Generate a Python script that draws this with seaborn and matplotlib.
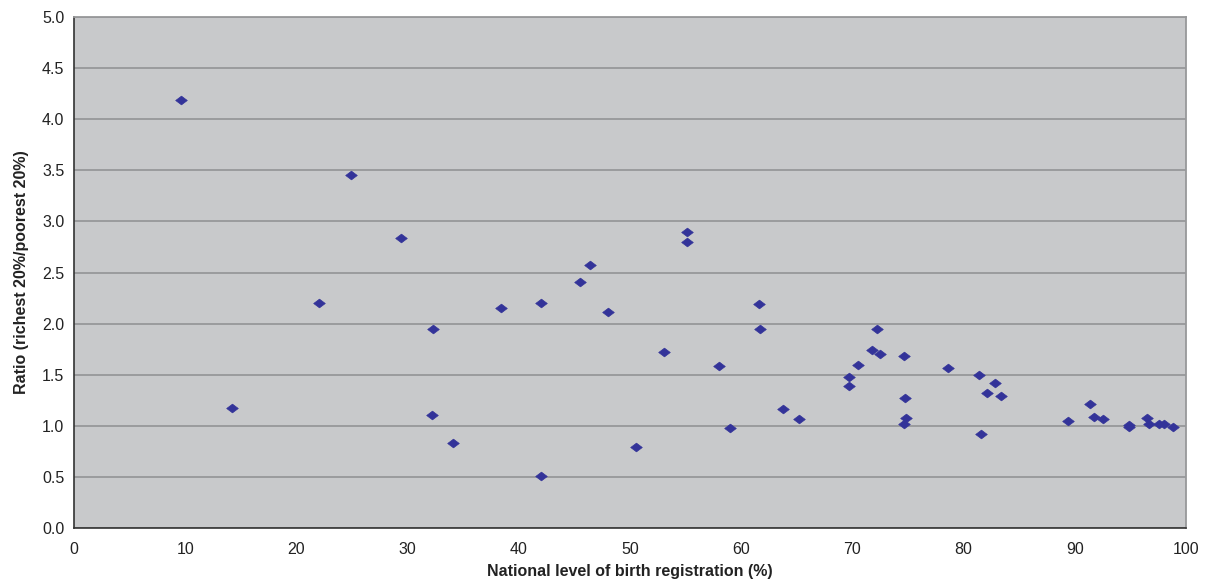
import matplotlib
matplotlib.use("Agg")
import matplotlib.pyplot as plt
import seaborn as sns
import pandas as pd

# ==================================================
# Datos
# ==================================================
registration = [9.6, 14.2, 22.0, 24.9, 29.4, 32.3, 32.2, 34.1,
                38.4, 42.0, 42.0, 45.5, 46.4, 48.0, 50.5, 53.1,
                55.1, 55.1, 58.0, 59.0, 61.6, 61.7, 63.8, 65.2,
                69.7, 69.7, 70.5, 71.8, 72.2, 72.5, 74.6, 74.7,
                74.6, 74.8, 78.6, 81.4, 81.6, 82.1, 82.8, 83.4,
                89.4, 91.4, 91.7, 92.5, 94.9, 94.9, 96.5, 96.7,
                97.6, 98.0, 98.8]
ratio = [4.19, 1.17, 2.20, 3.45, 2.84, 1.95, 1.11, 0.83,
         2.15, 2.20, 0.51, 2.41, 2.57, 2.11, 0.79, 1.72,
         2.90, 2.80, 1.59, 0.98, 2.19, 1.95, 1.16, 1.07,
         1.48, 1.39, 1.60, 1.74, 1.95, 1.70, 1.68, 1.27,
         1.02, 1.08, 1.57, 1.50, 0.92, 1.32, 1.42, 1.29,
         1.05, 1.21, 1.09, 1.07, 1.01, 0.99, 1.08, 1.02,
         1.02, 1.02, 0.99]

x_ticks = list(range(0, 101, 10))
y_ticks = [0.0, 0.5, 1.0, 1.5, 2.0, 2.5, 3.0, 3.5, 4.0, 4.5, 5.0]

df = pd.DataFrame({"registration": registration, "ratio": ratio})

# ==================================================
# Estilo
# ==================================================
sns.set_style("white")
plt.rcParams["font.family"] = ["Liberation Sans", "DejaVu Sans"]

fig = plt.figure(figsize=(12.07, 5.83), dpi=100)
ax = fig.add_axes([0.0613, 0.0943, 0.9213, 0.8765])
ax.set_facecolor("#c8c9cb")

diamond = [(-1, 0), (0, 0.75), (1, 0), (0, -0.75), (-1, 0)]
sns.scatterplot(data=df, x="registration", y="ratio", ax=ax,
                marker=diamond, s=70, color="#333399", edgecolor="#333399",
                linewidth=0.5, zorder=3)

ax.set_xlim(0, 100)
ax.set_ylim(0, 5)
ax.set_xticks(x_ticks)
ax.set_yticks(y_ticks)
ax.set_yticklabels([f"{v:.1f}" for v in y_ticks])
ax.yaxis.grid(True, color="#97989a", linewidth=1.3)
ax.set_axisbelow(True)

ax.tick_params(axis="both", direction="out", length=4, width=1,
               color="#333333", labelsize=11.5, labelcolor="#222222", pad=3)
ax.tick_params(axis="x", pad=6)

for side in ["left", "bottom"]:
    ax.spines[side].set_color("#333333")
    ax.spines[side].set_linewidth(1.2)
for side in ["top", "right"]:
    ax.spines[side].set_color("#97989a")
    ax.spines[side].set_linewidth(1.3)

ax.set_xlabel("National level of birth registration (%)", fontsize=11.5,
              fontweight="bold", color="#222222", labelpad=5)
ax.set_ylabel("Ratio (richest 20%/poorest 20%)", fontsize=11.5,
              fontweight="bold", color="#222222", labelpad=9)

fig.savefig("out.png", dpi=100)
